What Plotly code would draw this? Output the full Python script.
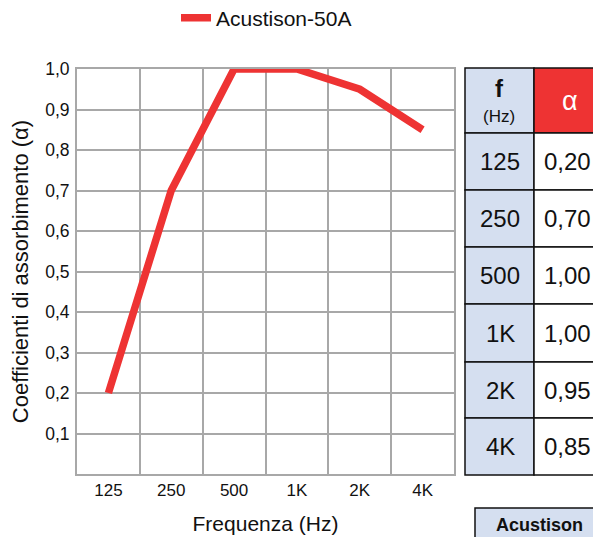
import plotly.graph_objects as go

# ---- data ----
frequencies = ["125", "250", "500", "1K", "2K", "4K"]
alpha_values = [0.20, 0.70, 1.00, 1.00, 0.95, 0.85]
series_name = "Acustison-50A"
y_ticks = [0.1, 0.2, 0.3, 0.4, 0.5, 0.6, 0.7, 0.8, 0.9, 1.0]

RED = "#EE3333"
BLUE = "#D5DFF0"
GRID = "#A8A8A8"
FONT = "Liberation Sans, Arial, sans-serif"
INK = "#111111"

W, H = 601, 537
PAGE_OFF = 8  # page body margin
L, R, T, B = 77, 454, 69, 474  # plot area in screenshot pixels


def px(x):
    return (x - L) / (R - L)


def py(y):
    return (B - y) / (B - T)


def label(x, y, text, size, color=INK, xanchor="center"):
    return dict(xref="paper", yref="paper", x=px(x), y=py(y), text=text,
                xanchor=xanchor, yanchor="middle", showarrow=False,
                font=dict(family=FONT, size=size, color=color))


fig = go.Figure()
fig.add_trace(go.Scatter(
    x=frequencies, y=alpha_values, mode="lines", name=series_name,
    line=dict(color=RED, width=7.5), showlegend=True,
))

shapes = []
annotations = []

# table geometry (screenshot pixels)
tx0, tdiv, tx1 = 465, 534, 640
row_edges = [68, 133, 190, 247, 304, 362, 418, 475]


def cell(x0, x1, y0, y1, fill):
    return dict(type="rect", xref="paper", yref="paper", x0=px(x0), x1=px(x1),
                y0=py(y1), y1=py(y0), fillcolor=fill,
                line=dict(color=INK, width=1.5), layer="below")


shapes.append(cell(tx0, tdiv, row_edges[0], row_edges[1], BLUE))
shapes.append(cell(tdiv, tx1, row_edges[0], row_edges[1], RED))
annotations.append(label(499, 88, "<b>f</b>", 24))
annotations.append(label(499, 116, "(Hz)", 17))
annotations.append(label(570, 101, "α", 27, color="white"))

for i, (f, a) in enumerate(zip(frequencies, alpha_values)):
    y0p, y1p = row_edges[i + 1], row_edges[i + 2]
    shapes.append(cell(tx0, tdiv, y0p, y1p, BLUE))
    shapes.append(cell(tdiv, tx1, y0p, y1p, "white"))
    cy = (y0p + y1p) / 2
    annotations.append(label(500, cy, f, 24))
    annotations.append(label(567, cy, f"{a:.2f}".replace(".", ","), 24))

# bottom (cut-off) box
shapes.append(cell(475, 660, 508, 600, BLUE))
annotations.append(label(494, 525, "<b>Acustison</b>", 18, xanchor="left"))

fig.update_layout(
    width=W, height=H,
    margin=dict(l=L - PAGE_OFF, r=W - (R - PAGE_OFF), t=T - PAGE_OFF,
                b=H - (B - PAGE_OFF), pad=0, autoexpand=False),
    paper_bgcolor="white", plot_bgcolor="white",
    separators=",.",
    font=dict(family=FONT, color=INK),
    shapes=shapes, annotations=annotations,
    legend=dict(orientation="h", x=px(176), y=py(18), xanchor="left", yanchor="middle",
                font=dict(family=FONT, size=21, color=INK), bgcolor="rgba(0,0,0,0)"),
    xaxis=dict(
        type="category", tickson="boundaries", showgrid=True, gridcolor=GRID, gridwidth=2,
        showline=True, linecolor=GRID, linewidth=2, mirror=True, ticks="",
        tickfont=dict(family=FONT, size=17, color=INK),
        title=dict(text="Frequenza (Hz)", font=dict(family=FONT, size=21, color=INK), standoff=17),
        range=[-0.5, 5.5], fixedrange=True,
    ),
    yaxis=dict(
        range=[0, 1.0], tickvals=y_ticks, tickformat=".1f", showgrid=True, gridcolor=GRID,
        gridwidth=2, showline=True, linecolor=GRID, linewidth=2, mirror=True, ticks="",
        zeroline=False, ticklabelstandoff=2,
        tickfont=dict(family=FONT, size=17.5, color=INK),
        title=dict(text="Coefficienti di assorbimento (α)", font=dict(family=FONT, size=22, color=INK), standoff=10),
        fixedrange=True,
    ),
)

fig.write_html("out.html")
